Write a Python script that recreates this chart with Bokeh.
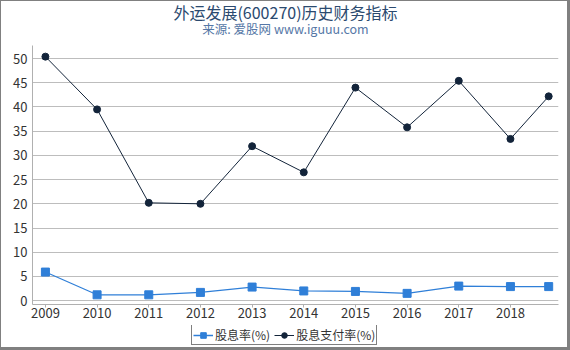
from bokeh.plotting import figure
from bokeh.layouts import column
from bokeh.models import Label, Legend, LegendItem, FixedTicker, Range1d
from bokeh.embed import file_html
from bokeh.resources import INLINE

years = [2009, 2010, 2011, 2012, 2013, 2014, 2015, 2016, 2017, 2018, 2018.74]
tick_years = [2009, 2010, 2011, 2012, 2013, 2014, 2015, 2016, 2017, 2018]
tick_labels = ["2009", "2010", "2011", "2012", "2013", "2014", "2015", "2016", "2017", "2018"]
dividend_yield = [5.9, 1.2, 1.2, 1.7, 2.8, 2.0, 1.9, 1.5, 3.0, 2.9, 2.9]
payout_ratio = [50.4, 39.5, 20.2, 20.0, 31.9, 26.5, 44.0, 35.8, 45.4, 33.4, 42.2]
series_names = ["股息率(%)", "股息支付率(%)"]
title_text = "外运发展(600270)历史财务指标"
subtitle_text = "来源: 爱股网 www.iguuu.com"

FONT = "Noto Sans CJK SC"
BLUE = "#2f7fd8"
DARK = "#13243a"
W = 566

# title strip
tf = figure(width=W, height=44, output_backend="svg", toolbar_location=None, title=None,
            x_range=Range1d(0, W), y_range=Range1d(0, 44), min_border=0,
            x_axis_location=None, y_axis_location=None)
tf.grid.visible = False
tf.outline_line_color = None
tf.add_layout(Label(x=253, y=34, x_units="screen", y_units="screen", text=title_text,
                    text_align="center", text_baseline="middle", text_font=FONT,
                    text_font_size="16px", text_color="#2b4a6f"))
tf.add_layout(Label(x=253, y=17, x_units="screen", y_units="screen", text=subtitle_text,
                    text_align="center", text_baseline="middle", text_font=FONT,
                    text_font_size="12.5px", text_color="#5577a6"))

# main chart
p = figure(width=W, height=280, output_backend="svg", toolbar_location=None, title=None,
           x_range=Range1d(2008.75, 2018.93), y_range=Range1d(-0.8, 52.7),
           min_border_left=31, min_border_right=9, min_border_top=0, min_border_bottom=21)
p.outline_line_color = None

p.line(years, dividend_yield, line_color=BLUE, line_width=1.2)
p.scatter(years, dividend_yield, marker="square", size=8, fill_color=BLUE, line_color=BLUE)
p.line(years, payout_ratio, line_color=DARK, line_width=1)
p.scatter(years, payout_ratio, marker="circle", size=7, fill_color=DARK, line_color=DARK)

p.xaxis.ticker = FixedTicker(ticks=tick_years)
p.xaxis.major_label_overrides = {y: s for y, s in zip(tick_years, tick_labels)}
p.yaxis.ticker = FixedTicker(ticks=list(range(0, 51, 5)))
for ax in (p.xaxis, p.yaxis):
    ax.axis_line_color = "#b0b0b0"
    ax.major_tick_line_color = "#b0b0b0"
    ax.minor_tick_line_color = None
    ax.major_label_text_font = FONT
    ax.major_label_text_font_size = "13px"
    ax.major_label_text_color = "#333333"
    ax.major_tick_in = 0
p.xaxis.major_tick_out = 3
p.xaxis.major_label_standoff = 0
p.yaxis.major_tick_out = 0
p.yaxis.major_label_standoff = 5
p.xgrid.grid_line_color = None
p.ygrid.grid_line_color = "#bdbdbd"
p.ygrid.grid_line_width = 1

# legend strip
lg = figure(width=W, height=22, output_backend="svg", toolbar_location=None, title=None,
            x_range=Range1d(0, 1), y_range=Range1d(0, 1), min_border=0,
            x_axis_location=None, y_axis_location=None)
lg.grid.visible = False
lg.outline_line_color = None
e1 = lg.line([-5, -4], [-5, -4], line_color=BLUE, line_width=1.5)
s1 = lg.scatter([-5], [-5], marker="square", size=8, fill_color=BLUE, line_color=BLUE)
e2 = lg.line([-5, -4], [-5, -4], line_color=DARK, line_width=1)
s2 = lg.scatter([-5], [-5], marker="circle", size=7, fill_color=DARK, line_color=DARK)
legend = Legend(items=[LegendItem(label=series_names[0], renderers=[e1, s1]),
                       LegendItem(label=series_names[1], renderers=[e2, s2])],
                orientation="horizontal", location=(159, 2),
                border_line_color="black", border_line_width=1.5,
                label_text_font=FONT, label_text_font_size="12px", label_text_color="#333333",
                glyph_width=20, glyph_height=14, label_standoff=2, spacing=4,
                padding=1, margin=0)
lg.add_layout(legend, "center")

layout = column(tf, p, lg, spacing=0,
                styles={"border-style": "solid", "border-color": "#808080",
                        "border-width": "1px 3px 3px 1px"})

open("out.html", "w").write(file_html(layout, INLINE))
